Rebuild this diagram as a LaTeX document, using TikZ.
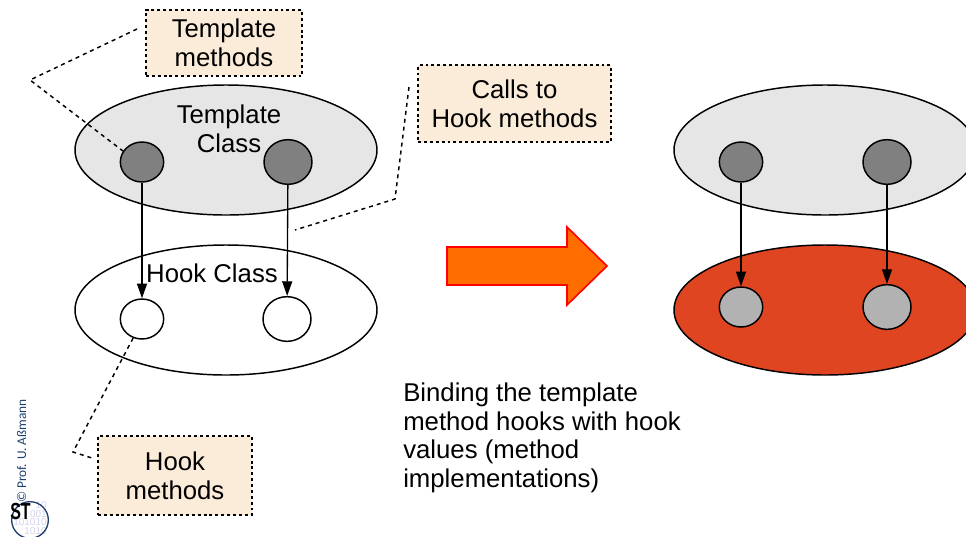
\documentclass[tikz,border=0pt]{standalone}
\usepackage{fontspec}
\setmainfont{Liberation Sans}
\newfontfamily\logofont{Carlito}
\usetikzlibrary{shapes.geometric,arrows.meta}
\definecolor{notefill}{HTML}{FBEBD9}
\definecolor{classgray}{HTML}{E6E6E6}
\definecolor{boundred}{HTML}{E04522}
\definecolor{stblue}{HTML}{1F3F6E}
\definecolor{stbits}{HTML}{D5D2EE}
\tikzset{
    oval/.style={ellipse, draw, line width=1.1pt, inner sep=0, minimum width=226.5pt, minimum height=97.5pt},
    hooksmall/.style={ellipse, draw, line width=1.1pt, inner sep=0, minimum width=32.5pt, minimum height=30pt},
    hookbig/.style={ellipse, draw, line width=1.1pt, inner sep=0, minimum width=36pt, minimum height=33.5pt},
    note/.style={draw, line width=1.1pt, dash pattern=on 2.2pt off 2.2pt, fill=notefill, align=center, inner sep=0, font=\fontsize{19.3}{21.5}\selectfont},
    callout/.style={line width=1.1pt, dash pattern=on 3pt off 3pt},
    label/.style={align=center, inner sep=0, font=\fontsize{19.3}{21.5}\selectfont},
    bind/.style={-{Triangle[length=11pt,width=7.5pt]}, line width=1pt}
}
\begin{document}
\begin{tikzpicture}[x=0.75pt,y=-0.75pt]
    \clip (0,0) rectangle (966,536);
    % left side
    \node[oval,fill=classgray] (tclass) at (226,150) {};
    \node[oval] (hclass) at (226,310) {};
    \node[label] (tclasstext) at (229,129) {Template\\Class};
    \node[label] (hclasstext) at (212,273) {Hook Class};
    \node[hooksmall,fill=gray] (tcalla) at (142,162) {};
    \node[hookbig,fill=gray] (tcallb) at (288,162) {};
    \node[hooksmall,fill=white] (hooka) at (142,319) {};
    \node[hookbig,fill=white] (hookb) at (287,319) {};
    \draw[bind] (tcalla) -- (hooka);
    \draw[bind] (tcallb) -- (hookb);
    % right side
    \node[oval,fill=classgray] (tbound) at (825,150) {};
    \node[oval,fill=boundred] (hbound) at (825,310) {};
    \foreach \name/\xpos/\ypos/\kind in {ra/741/162/hooksmall,rb/887/162/hookbig}{
        \node[\kind,fill=gray] (\name) at (\xpos,\ypos) {};
    }
    \foreach \name/\xpos/\ypos/\kind in {rc/741/307/hooksmall,rd/887/307/hookbig}{
        \node[\kind,fill=black!30] (\name) at (\xpos,\ypos) {};
    }
    \draw[bind] (ra) -- (rc);
    \draw[bind] (rb) -- (rd);
    % notes
    \node[note,minimum width=117pt,minimum height=49.5pt] (tnote) at (224,43) {Template\\methods};
    \node[note,minimum width=144.5pt,minimum height=57.5pt] (cnote) at (514.5,103.5) {Calls to\\Hook methods};
    \node[note,minimum width=115.5pt,minimum height=59pt] (hnote) at (175,475.5) {Hook\\methods};
    \coordinate (tstart) at (137,29);
    \coordinate (tbend) at (30,80);
    \coordinate (cstart) at (409,87);
    \coordinate (cbend) at (395,199);
    \coordinate (cend) at (295,230);
    \coordinate (hbend) at (73,452);
    \coordinate (hend) at (92,458);
    \draw[callout] (tstart) -- (tbend) -- (tcalla.150);
    \draw[callout] (cstart) -- (cbend) -- (cend);
    \draw[callout] (hooka.245) -- (hbend) -- (hend);
    % binding arrow
    \draw[line width=1.2pt,draw=red,fill=orange!85!red] (447,247) -- (567,247) -- (567,227) -- (607,266) -- (567,305) -- (567,285) -- (447,285) -- cycle;
    \node[label,align=left,anchor=north west] (bindtext) at (403,382.5) {Binding the template\\method hooks with hook\\values (method\\implementations)};
    % logo
    \node[rotate=90,inner sep=0,text=stblue,font=\logofont\fontsize{10}{10}\selectfont] (prof) at (21.5,451) {© Prof. U. Aßmann};
    \node[inner sep=0,text=stbits,align=right,font=\fontsize{7.5}{5.3}\selectfont] (bits) at (30,518) {10\\001\\101010\\1010};
    \node[circle,draw=stblue,line width=1pt,minimum size=27.5pt,inner sep=0] (logo) at (30,520) {};
    \node[inner sep=0,font=\bfseries\fontsize{12}{12}\selectfont] (st) at (20.5,512) {\scalebox{1}[1.45]{ST}};
\end{tikzpicture}
\end{document}
